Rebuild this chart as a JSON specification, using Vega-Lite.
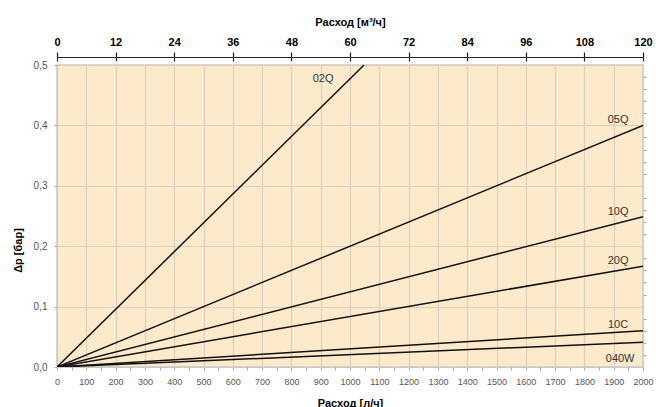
{
  "$schema": "https://vega.github.io/schema/vega-lite/v6.json",
  "width": 586,
  "height": 302,
  "autosize": {"type": "none"},
  "padding": {"left": 57, "top": 65, "right": 13, "bottom": 40},
  "background": "white",
  "config": {
    "font": "Liberation Sans",
    "view": {"fill": "#fdeacb", "stroke": "#c9c9c9", "strokeWidth": 1.5}
  },
  "datasets": {
    "lines": [
      {"series": "02Q", "q": 0, "dp": 0},
      {"series": "02Q", "q": 1048, "dp": 0.5},
      {"series": "05Q", "q": 0, "dp": 0},
      {"series": "05Q", "q": 2000, "dp": 0.4},
      {"series": "10Q", "q": 0, "dp": 0},
      {"series": "10Q", "q": 2000, "dp": 0.249},
      {"series": "20Q", "q": 0, "dp": 0},
      {"series": "20Q", "q": 2000, "dp": 0.167},
      {"series": "10C", "q": 0, "dp": 0},
      {"series": "10C", "q": 2000, "dp": 0.06},
      {"series": "040W", "q": 0, "dp": 0},
      {"series": "040W", "q": 2000, "dp": 0.041}
    ],
    "labels": [
      {"label": "02Q", "q": 908, "dp": 0.477},
      {"label": "05Q", "q": 1915, "dp": 0.409},
      {"label": "10Q", "q": 1915, "dp": 0.257},
      {"label": "20Q", "q": 1915, "dp": 0.176},
      {"label": "10C", "q": 1915, "dp": 0.07},
      {"label": "040W", "q": 1922, "dp": 0.013}
    ],
    "m3": [{"v": 0}, {"v": 120}]
  },
  "layer": [
    {
      "data": {"name": "lines"},
      "mark": {"type": "line", "color": "#111", "strokeWidth": 1.5, "clip": true},
      "encoding": {
        "x": {
          "field": "q", "type": "quantitative",
          "scale": {"domain": [0, 2000], "nice": false},
          "axis": {
            "orient": "bottom",
            "values": [0,100,200,300,400,500,600,700,800,900,1000,1100,1200,1300,1400,1500,1600,1700,1800,1900,2000],
            "format": "d",
            "labelFontSize": 9,
            "labelColor": "#555",
            "labelPadding": 7,
            "labelFlush": false,
            "labelOverlap": false,
            "domain": true,
            "domainColor": "#c9c9c9",
            "tickColor": "#aaa",
            "tickSize": 3,
            "grid": true,
            "gridColor": "#d9d0c0",
            "gridWidth": 1.2,
            "title": "Расход [л/ч]",
            "titleFontSize": 11,
            "titleFontWeight": "bold",
            "titleColor": "#000",
            "titleBaseline": "top",
            "titleY": 30
          }
        },
        "y": {
          "field": "dp", "type": "quantitative",
          "scale": {"domain": [0, 0.5], "nice": false},
          "axis": {
            "values": [0, 0.1, 0.2, 0.3, 0.4, 0.5],
            "labelExpr": "replace(format(datum.value, '.1f'), '.', ',')",
            "labelFontSize": 10,
            "labelColor": "#555",
            "labelPadding": 7,
            "labelFlush": false,
            "labelOverlap": false,
            "domainColor": "#c9c9c9",
            "tickColor": "#aaa",
            "tickSize": 3,
            "grid": true,
            "gridColor": "#d9d0c0",
            "gridWidth": 1.2,
            "title": "Δp [бар]",
            "titleFontSize": 11,
            "titleFontWeight": "bold",
            "titleColor": "#000",
            "titleAngle": -90,
            "titleAlign": "center",
            "titleBaseline": "alphabetic",
            "titleX": -36,
            "titleY": 185
          }
        },
        "detail": {"field": "series", "type": "nominal"}
      }
    },
    {
      "data": {"name": "labels"},
      "mark": {"type": "text", "fontSize": 11, "color": "#333", "align": "center", "baseline": "middle"},
      "encoding": {
        "x": {
          "field": "q", "type": "quantitative",
          "scale": {"domain": [0, 2000], "nice": false},
          "axis": {
            "orient": "bottom",
            "values": [50,150,250,350,450,550,650,750,850,950,1050,1150,1250,1350,1450,1550,1650,1750,1850,1950],
            "labels": false,
            "domain": false,
            "grid": false,
            "tickColor": "#aaa",
            "tickSize": 3,
            "title": null
          }
        },
        "y": {
          "field": "dp", "type": "quantitative",
          "axis": {
            "values": [0.02,0.04,0.06,0.08,0.12,0.14,0.16,0.18,0.22,0.24,0.26,0.28,0.32,0.34,0.36,0.38,0.42,0.44,0.46,0.48],
            "labels": false,
            "domain": false,
            "grid": false,
            "tickColor": "#aaa",
            "tickSize": 3,
            "title": null
          }
        },
        "text": {"field": "label", "type": "nominal"}
      }
    },
    {
      "data": {"name": "m3"},
      "mark": {"type": "point", "opacity": 0},
      "encoding": {
        "x": {
          "field": "v", "type": "quantitative",
          "scale": {"domain": [0, 120], "nice": false},
          "axis": {
            "orient": "top",
            "offset": 8,
            "values": [0, 12, 24, 36, 48, 60, 72, 84, 96, 108, 120],
            "format": "d",
            "labelFontSize": 11,
            "labelFontWeight": "bold",
            "labelColor": "#000",
            "labelPadding": 5,
            "labelFlush": false,
            "labelOverlap": false,
            "domainColor": "#222",
            "domainWidth": 1.2,
            "tickColor": "#222",
            "tickWidth": 1.2,
            "tickSize": 5,
            "grid": false,
            "title": "Расход [м³/ч]",
            "titleFontSize": 11,
            "titleFontWeight": "bold",
            "titleColor": "#000",
            "titleBaseline": "middle",
            "titleY": -35
          }
        }
      }
    },
    {
      "data": {"name": "m3"},
      "mark": {"type": "point", "opacity": 0},
      "encoding": {
        "x": {
          "field": "v", "type": "quantitative",
          "scale": {"domain": [0, 120], "nice": false},
          "axis": {
            "orient": "top",
            "offset": 8,
            "values": [0, 12, 24, 36, 48, 60, 72, 84, 96, 108, 120],
            "labels": false,
            "domain": false,
            "tickColor": "#222",
            "tickWidth": 1.2,
            "tickSize": -4,
            "grid": false,
            "title": null
          }
        }
      }
    }
  ],
  "resolve": {"scale": {"x": "independent"}, "axis": {"x": "independent", "y": "independent"}}
}
